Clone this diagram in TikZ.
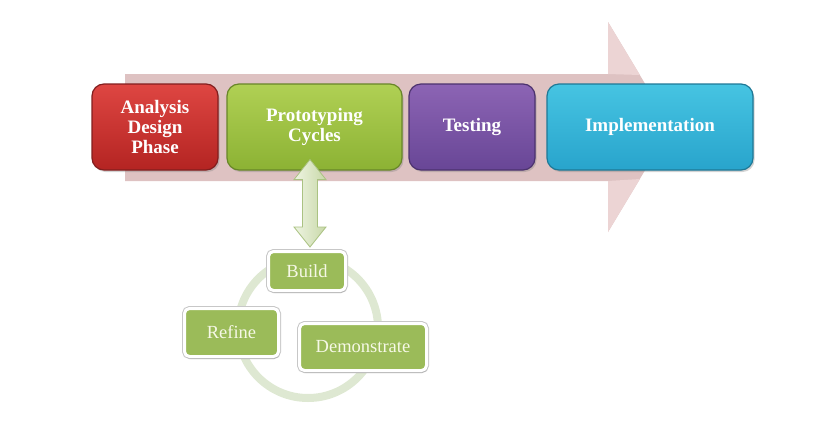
\documentclass[tikz,border=0pt]{standalone}
\usepackage{fontspec}
\setmainfont{Liberation Serif}
\usetikzlibrary{calc,shadows}
\definecolor{redT}{RGB}{222,70,66}
\definecolor{redB}{RGB}{180,36,34}
\definecolor{redD}{RGB}{130,30,30}
\definecolor{grnT}{RGB}{176,208,84}
\definecolor{grnB}{RGB}{140,178,52}
\definecolor{grnD}{RGB}{104,134,40}
\definecolor{purT}{RGB}{140,100,180}
\definecolor{purB}{RGB}{104,70,150}
\definecolor{purD}{RGB}{76,50,110}
\definecolor{bluT}{RGB}{70,196,226}
\definecolor{bluB}{RGB}{40,164,204}
\definecolor{bluD}{RGB}{30,120,150}
\definecolor{arrowpink}{RGB}{222,194,194}
\definecolor{arrowpinkL}{RGB}{236,212,212}
\definecolor{smallgreen}{RGB}{155,187,89}
\definecolor{cyclegreen}{RGB}{222,232,210}
\definecolor{dblL}{RGB}{238,244,226}
\definecolor{dblR}{RGB}{200,216,168}
\definecolor{dblD}{RGB}{170,194,130}
\definecolor{cream}{RGB}{246,248,230}
\tikzset{
  phase/.style={rounded corners=12pt, minimum height=86pt, line width=1.2pt,
    text=white, font=\fontsize{19}{20}\selectfont\bfseries, align=center,
    inner sep=2pt, drop shadow={opacity=0.35,shadow xshift=1.5pt,shadow yshift=-2pt}},
  stepbox/.style={rounded corners=5pt, fill=smallgreen, draw=white, line width=3pt,
    text=cream, font=\fontsize{18.5}{20}\selectfont, inner sep=2pt,
    preaction={draw=black!22, line width=5pt},
    drop shadow={opacity=0.25,shadow xshift=1pt,shadow yshift=-2.5pt}},
}
\begin{document}
\begin{tikzpicture}[x=1pt,y=-1pt]
\useasboundingbox (0,0) rectangle (819,426);
% big background arrow
\fill[arrowpink] (125,74) -- (608,74) -- (608,22) -- (671,127) -- (608,232) -- (608,181) -- (125,181) -- cycle;
\fill[arrowpinkL] (608,74) -- (608,22) -- (640,75) -- cycle;
\fill[arrowpinkL] (608,181) -- (608,232) -- (640,179) -- cycle;
% phase boxes
\node[phase, top color=redT, bottom color=redB, draw=redD, minimum width=126pt] (ana) at (155,127) {Analysis\\Design\\Phase};
\node[phase, top color=grnT, bottom color=grnB, draw=grnD, minimum width=175pt] (proto) at (314.5,127) {Prototyping\\Cycles};
\node[phase, top color=purT, bottom color=purB, draw=purD, minimum width=126pt] (test) at (472,127) {Testing};
\node[phase, top color=bluT, bottom color=bluB, draw=bluD, minimum width=206pt] (impl) at (650,127) {Implementation};
% cycle ring
\draw[cyclegreen, line width=8pt] (308,328) circle [radius=70];
% cycle steps
\node[stepbox, minimum width=77pt, minimum height=39pt] (build) at (307,271) {Build};
\node[stepbox, minimum width=94pt, minimum height=48pt] (refine) at (231.5,332.5) {Refine};
\node[stepbox, minimum width=127pt, minimum height=47pt] (demo) at (363,347) {Demonstrate};
% double arrow between Prototyping Cycles and Build
\coordinate (at) at ($(proto.south)+(-4.5,-11)$);
\coordinate (ab) at ($(build.north)+(3,-3)$);
\path[left color=dblL, right color=dblR, draw=dblD, line width=0.8pt, line join=miter]
  let \p1=(at), \p2=(ab) in
  (\x1,\y1) -- (\x1+16pt,\y1-20pt) -- (\x1+7.5pt,\y1-20pt) -- (\x1+7.5pt,\y2+20pt)
  -- (\x1+16pt,\y2+20pt) -- (\x1,\y2) -- (\x1-16pt,\y2+20pt) -- (\x1-7.5pt,\y2+20pt)
  -- (\x1-7.5pt,\y1-20pt) -- (\x1-16pt,\y1-20pt) -- cycle;
\end{tikzpicture}
\end{document}
